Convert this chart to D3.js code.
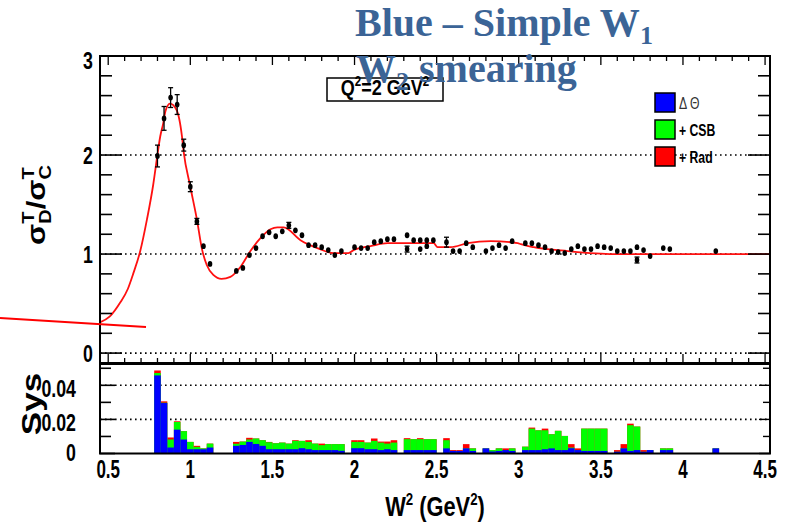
<!DOCTYPE html>
<html><head><meta charset="utf-8">
<script src="https://cdn.jsdelivr.net/npm/d3@7"></script>
<style>html,body{margin:0;padding:0;background:#fff;} svg{display:block;}</style>
</head><body>
<svg id="chart" width="790" height="526"></svg>
<script>
// ---- model curve: deuteron / carbon transverse cross-section ratio vs W^2
const curveW = [0.45,0.51,0.573,0.62,0.652,0.695,0.736,0.774,0.797,0.817,0.835,0.848,0.876,0.915,0.949,0.959,1.0,1.04,1.071,1.10,1.14,1.19,1.244,1.305,1.366,1.427,1.488,1.53,1.569,1.671,1.773,1.872,1.963,1.994,2.098,2.201,2.482,2.506,2.585,2.689,2.829,2.994,3.012,3.091,3.299,3.579,4.53];
const curveR = [0.31,0.37,0.51,0.65,0.80,1.03,1.35,1.70,1.97,2.19,2.32,2.44,2.52,2.46,2.19,2.04,1.68,1.35,1.05,0.89,0.79,0.75,0.77,0.87,1.03,1.16,1.25,1.27,1.27,1.14,1.06,1.01,1.01,1.04,1.08,1.11,1.11,1.07,1.07,1.11,1.13,1.11,1.10,1.07,1.03,1.00,1.00];

// ---- measured points
const dataW = [0.80,0.84,0.88,0.92,0.96,1.00,1.04,1.08,1.12,1.28,1.32,1.36,1.40,1.44,1.48,1.52,1.56,1.60,1.64,1.68,1.72,1.76,1.80,1.84,1.88,1.92,2.00,2.04,2.08,2.12,2.16,2.20,2.24,2.32,2.32,2.36,2.40,2.40,2.44,2.44,2.48,2.56,2.60,2.64,2.68,2.72,2.80,2.84,2.88,2.92,2.96,3.04,3.08,3.12,3.16,3.20,3.24,3.28,3.32,3.36,3.40,3.44,3.48,3.52,3.56,3.60,3.64,3.68,3.72,3.72,3.76,3.80,3.88,3.92,4.20];
const dataR = [1.99,2.37,2.58,2.51,2.10,1.68,1.33,1.08,0.90,0.83,0.86,0.99,1.06,1.18,1.22,1.18,1.23,1.29,1.24,1.19,1.09,1.09,1.07,1.04,0.99,1.03,1.07,1.06,1.06,1.12,1.13,1.15,1.15,1.19,1.05,1.14,1.14,1.05,1.14,1.08,1.14,1.12,1.03,1.03,1.11,1.07,1.03,1.06,1.09,1.06,1.13,1.11,1.11,1.09,1.07,1.03,1.02,1.01,1.05,1.08,1.05,1.05,1.08,1.07,1.06,1.03,1.03,1.03,1.07,0.94,1.04,0.98,1.06,1.05,1.03];
const dataErr = [0.11,0.12,0.10,0.10,0.06,0.05,0.03,0.02,0.02,0.02,0.02,0.02,0.02,0.02,0.02,0.02,0.02,0.03,0.02,0.02,0.02,0.02,0.02,0.02,0.02,0.02,0.02,0.02,0.02,0.02,0.02,0.02,0.02,0.02,0.03,0.02,0.02,0.02,0.02,0.02,0.02,0.05,0.02,0.02,0.02,0.02,0.02,0.02,0.02,0.02,0.02,0.02,0.02,0.02,0.02,0.02,0.02,0.02,0.02,0.02,0.02,0.02,0.02,0.02,0.02,0.02,0.02,0.02,0.02,0.03,0.02,0.02,0.02,0.02,0.02];

// ---- systematic uncertainty per bin (cumulative: ΔΘ, +CSB, +Rad)
const sysW = [0.80,0.84,0.88,0.92,0.96,1.00,1.04,1.08,1.12,1.28,1.32,1.36,1.40,1.44,1.48,1.52,1.56,1.60,1.64,1.68,1.72,1.76,1.80,1.84,1.88,1.92,2.00,2.04,2.08,2.12,2.16,2.20,2.24,2.32,2.36,2.40,2.44,2.48,2.56,2.60,2.64,2.68,2.72,2.80,2.84,2.88,2.92,2.96,3.04,3.08,3.12,3.16,3.20,3.24,3.28,3.32,3.36,3.40,3.44,3.48,3.52,3.60,3.64,3.68,3.72,3.76,3.80,3.88,3.92,4.20];
const sysTheta = [0.0458,0.0296,0.0035,0.0140,0.0082,0.0025,0.0025,0.0025,0.0035,0.0045,0.0050,0.0068,0.0056,0.0045,0.0025,0.0025,0.0025,0.0025,0.0025,0.0031,0.0025,0.0020,0.0020,0.0020,0.0020,0.0016,0.0031,0.0031,0.0025,0.0025,0.0020,0.0025,0.0020,0.0020,0.0020,0.0020,0.0020,0.0020,0.0030,0.0015,0.0015,0.0030,0.0015,0.0030,0.0012,0.0015,0.0020,0.0015,0.0020,0.0020,0.0020,0.0025,0.0030,0.0020,0.0020,0.0031,0.0020,0.0015,0.0015,0.0015,0.0015,0.0010,0.0030,0.0015,0.0020,0.0010,0.0020,0.0020,0.0020,0.0030];
const sysCSB = [0.0472,0.0298,0.0082,0.0185,0.0131,0.0068,0.0039,0.0030,0.0058,0.0057,0.0070,0.0082,0.0088,0.0078,0.0066,0.0060,0.0064,0.0058,0.0074,0.0074,0.0068,0.0058,0.0049,0.0055,0.0055,0.0055,0.0068,0.0068,0.0064,0.0074,0.0064,0.0058,0.0064,0.0084,0.0084,0.0084,0.0084,0.0084,0.0078,0.0015,0.0015,0.0030,0.0030,0.0030,0.0020,0.0030,0.0020,0.0030,0.0040,0.0146,0.0136,0.0136,0.0113,0.0133,0.0103,0.0035,0.0020,0.0146,0.0146,0.0146,0.0146,0.0010,0.0030,0.0166,0.0158,0.0010,0.0020,0.0030,0.0030,0.0030];
const sysRad = [0.0487,0.0306,0.0094,0.0189,0.0131,0.0068,0.0045,0.0030,0.0058,0.0068,0.0070,0.0092,0.0088,0.0078,0.0068,0.0060,0.0064,0.0058,0.0078,0.0074,0.0078,0.0058,0.0058,0.0055,0.0055,0.0055,0.0078,0.0078,0.0064,0.0088,0.0070,0.0070,0.0078,0.0090,0.0084,0.0090,0.0084,0.0084,0.0090,0.0020,0.0020,0.0055,0.0030,0.0030,0.0020,0.0030,0.0030,0.0030,0.0040,0.0152,0.0136,0.0146,0.0113,0.0133,0.0103,0.0055,0.0030,0.0146,0.0146,0.0146,0.0146,0.0020,0.0055,0.0175,0.0158,0.0020,0.0020,0.0030,0.0030,0.0030];
const binWidth = 0.04;

// ---- axis labels
const xTickLabels = ["0.5","1","1.5","2","2.5","3","3.5","4","4.5"];
const xTickVals = [0.5,1,1.5,2,2.5,3,3.5,4,4.5];
const yUpTicks = [0,1,2,3];
const yLoTicks = [0,0.02,0.04];
const yLoTickLabels = ["0","0.02","0.04"];
const legendNames = ["\u0394 \u0398","+ CSB","+ Rad"];
const colors = {theta:"#0000ff", csb:"#00ff00", rad:"#ff0000"};

const svg = d3.select("#chart");
const SQ = 0.74;            // narrow, bold ROOT-style lettering
const FONT = "'Liberation Sans', Arial, sans-serif";

const x = d3.scaleLinear().domain([0.45, 4.53]).range([100, 770]);
const yU = d3.scaleLinear().domain([-0.1, 3]).range([363, 56]);
const yL = d3.scaleLinear().domain([0, 0.0525]).range([453.5, 364]);

function label(parent, px, py, txt, size, anchor, sq) {
  const g = parent.append("g").attr("transform", `translate(${px},${py}) scale(${sq ?? SQ},1)`);
  return g.append("text").attr("font-family", FONT).attr("font-weight", "bold")
    .attr("font-size", size).attr("text-anchor", anchor).attr("dominant-baseline", "central")
    .attr("fill", "#000").text(txt);
}

// ================= upper panel =================
const up = svg.append("g");
// dotted reference lines
up.selectAll("line.grid").data(yUpTicks.slice(0, 3)).join("line")
  .attr("x1", x.range()[0]).attr("x2", x.range()[1])
  .attr("y1", d => yU(d)).attr("y2", d => yU(d))
  .attr("stroke", "#000").attr("stroke-width", 1.6).attr("stroke-dasharray", "1.6,3.4");

// model curve
const line = d3.line().x(d => x(d[0])).y(d => yU(d[1])).curve(d3.curveMonotoneX);
up.append("path").datum(curveW.map((w, i) => [w, curveR[i]]))
  .attr("d", line).attr("fill", "none").attr("stroke", "#ff1010").attr("stroke-width", 1.8);

// data points with error bars
const pts = dataW.map((w, i) => ({w, r: dataR[i], e: dataErr[i]}));
const pg = up.selectAll("g.pt").data(pts).join("g");
pg.append("line").attr("x1", d => x(d.w)).attr("x2", d => x(d.w))
  .attr("y1", d => yU(d.r - d.e)).attr("y2", d => yU(d.r + d.e))
  .attr("stroke", "#000").attr("stroke-width", 1.3);
pg.filter(d => d.e >= 0.03).each(function(d) {
  const s = d3.select(this);
  [d.r - d.e, d.r + d.e].forEach(v => s.append("line")
    .attr("x1", x(d.w) - 2.5).attr("x2", x(d.w) + 2.5).attr("y1", yU(v)).attr("y2", yU(v))
    .attr("stroke", "#000").attr("stroke-width", 1.3));
});
pg.append("ellipse").attr("cx", d => x(d.w)).attr("cy", d => yU(d.r))
  .attr("rx", 2.3).attr("ry", 2.9).attr("fill", "#000");

// frame
up.append("rect").attr("x", 100).attr("y", 56).attr("width", 670).attr("height", 307)
  .attr("fill", "none").attr("stroke", "#000").attr("stroke-width", 2);

// x ticks on top (down) and bottom (up)
const xMinor = d3.range(0.5, 4.501, 0.1);
xMinor.forEach(v => {
  const major = Math.abs(v * 2 - Math.round(v * 2)) < 1e-6;
  const L = major ? 9 : 5;
  up.append("line").attr("x1", x(v)).attr("x2", x(v)).attr("y1", 56).attr("y2", 56 + L)
    .attr("stroke", "#000").attr("stroke-width", 1.3);
  up.append("line").attr("x1", x(v)).attr("x2", x(v)).attr("y1", 363).attr("y2", 363 - L)
    .attr("stroke", "#000").attr("stroke-width", 1.3);
});
// y ticks left and right
d3.range(0, 3.001, 0.2).forEach(v => {
  const major = Math.abs(v - Math.round(v)) < 1e-6;
  const L = major ? 22 : 12;
  up.append("line").attr("x1", 100).attr("x2", 100 + L).attr("y1", yU(v)).attr("y2", yU(v))
    .attr("stroke", "#000").attr("stroke-width", 1.6);
  up.append("line").attr("x1", 770).attr("x2", 770 - L).attr("y1", yU(v)).attr("y2", yU(v))
    .attr("stroke", "#000").attr("stroke-width", 1.6);
});
yUpTicks.forEach(v => label(up, 93, v === 3 ? yU(v) + 4 : yU(v), String(v), 24, "end"));

// y title: sigma_D^T / sigma_C^T
{
  const g = svg.append("g").attr("transform", "translate(45,205) rotate(-90) scale(1,0.82)");
  const t = g.append("text").attr("font-family", FONT).attr("font-weight", "bold")
    .attr("font-size", 31).attr("text-anchor", "middle").attr("fill", "#000");
  t.append("tspan").text("\u03c3");
  t.append("tspan").attr("font-size", 20).attr("dy", -13).text("T");
  t.append("tspan").attr("font-size", 20).attr("dx", -12.2).attr("dy", 20).text("D");
  t.append("tspan").attr("dy", -7).text("/\u03c3");
  t.append("tspan").attr("font-size", 20).attr("dy", -13).text("T");
  t.append("tspan").attr("font-size", 20).attr("dx", -12.2).attr("dy", 20).text("C");
}

// Q^2 box
up.append("rect").attr("x", 327).attr("y", 78).attr("width", 116).attr("height", 23)
  .attr("fill", "#fff").attr("stroke", "#000").attr("stroke-width", 1.5);
{
  const g = up.append("g").attr("transform", "translate(385,95) scale(0.82,1)");
  const t = g.append("text").attr("font-family", FONT).attr("font-weight", "bold")
    .attr("font-size", 22).attr("text-anchor", "middle");
  t.append("tspan").text("Q");
  t.append("tspan").attr("font-size", 14).attr("dy", -9).text("2");
  t.append("tspan").attr("dy", 9).text("=2 GeV");
  t.append("tspan").attr("font-size", 14).attr("dy", -9).text("2");
}

// legend
const legKeys = ["theta", "csb", "rad"];
legKeys.forEach((k, i) => {
  const ly = 93 + i * 27;
  up.append("rect").attr("x", 655).attr("y", ly).attr("width", 20).attr("height", 19)
    .attr("fill", colors[k]).attr("stroke", "#000").attr("stroke-width", 1.5);
  const t = label(up, 679, ly + 10, legendNames[i], 17, "start", 0.72);
  if (i === 0) t.attr("font-weight", "normal").attr("fill", "#333");
});

// ================= lower panel =================
const lo = svg.append("g");
lo.selectAll("line.grid").data(yLoTicks.slice(1)).join("line")
  .attr("x1", 100).attr("x2", 770).attr("y1", d => yL(d)).attr("y2", d => yL(d))
  .attr("stroke", "#000").attr("stroke-width", 1.6).attr("stroke-dasharray", "1.6,3.4");

const bins = sysW.map((w, i) => ({w, t: sysTheta[i], c: sysCSB[i], r: sysRad[i]}));
[["r", colors.rad], ["c", colors.csb], ["t", colors.theta]].forEach(([key, col]) => {
  lo.selectAll(null).data(bins).join("rect")
    .attr("x", d => x(d.w - binWidth / 2)).attr("width", d => x(d.w + binWidth / 2) - x(d.w - binWidth / 2))
    .attr("y", d => yL(d[key])).attr("height", d => yL(0) - yL(d[key]))
    .attr("fill", col);
});

lo.append("rect").attr("x", 100).attr("y", 364).attr("width", 670).attr("height", 89.5)
  .attr("fill", "none").attr("stroke", "#000").attr("stroke-width", 2);
d3.range(0, 0.0501, 0.01).forEach((v, i) => {
  const major = i % 2 === 0;
  const L = major ? 15 : 11;
  lo.append("line").attr("x1", 100).attr("x2", 100 + L).attr("y1", yL(v)).attr("y2", yL(v))
    .attr("stroke", "#000").attr("stroke-width", 1.6);
  lo.append("line").attr("x1", 770).attr("x2", 770 - (major ? 11 : 7)).attr("y1", yL(v)).attr("y2", yL(v))
    .attr("stroke", "#000").attr("stroke-width", 1.4);
});
yLoTicks.forEach((v, i) => label(lo, 76, yL(v) + (i === 0 ? -1 : 3), yLoTickLabels[i], 24, "end"));

// Sys title
{
  const g = svg.append("g").attr("transform", "translate(31,404) rotate(-90) scale(1,0.8)");
  g.append("text").attr("font-family", FONT).attr("font-weight", "bold").attr("font-size", 35)
    .attr("text-anchor", "middle").attr("dominant-baseline", "central").text("Sys");
}

// x tick labels and title
xTickVals.forEach((v, i) => label(svg, x(v), 470, xTickLabels[i], 25, "middle", 0.68));
{
  const g = svg.append("g").attr("transform", "translate(435,516) scale(0.78,1)");
  const t = g.append("text").attr("font-family", FONT).attr("font-weight", "bold")
    .attr("font-size", 28).attr("text-anchor", "middle");
  t.append("tspan").text("W");
  t.append("tspan").attr("font-size", 17).attr("dy", -11).text("2");
  t.append("tspan").attr("dy", 11).text(" (GeV");
  t.append("tspan").attr("font-size", 17).attr("dy", -11).text("2");
  t.append("tspan").attr("dy", 11).text(")");
}

// ================= annotations =================
const title = svg.append("g").attr("font-family", "'Liberation Serif', 'Times New Roman', serif")
  .attr("font-weight", "bold").attr("fill", "#3b6496");
{
  const t1 = title.append("text").attr("x", 355).attr("y", 36).attr("font-size", 40);
  t1.append("tspan").text("Blue \u2013 Simple W");
  t1.append("tspan").attr("font-size", 26).attr("dy", 8).text("1");
  const t2 = title.append("text").attr("x", 356).attr("y", 82).attr("font-size", 40);
  t2.append("tspan").text("W");
  t2.append("tspan").attr("font-size", 26).attr("dy", 8).text("2");
  t2.append("tspan").attr("dy", -8).text(" smearing");
}
svg.append("line").attr("x1", 0).attr("y1", 318).attr("x2", 146).attr("y2", 327)
  .attr("stroke", "#ff0000").attr("stroke-width", 2);
</script>
</body></html>
